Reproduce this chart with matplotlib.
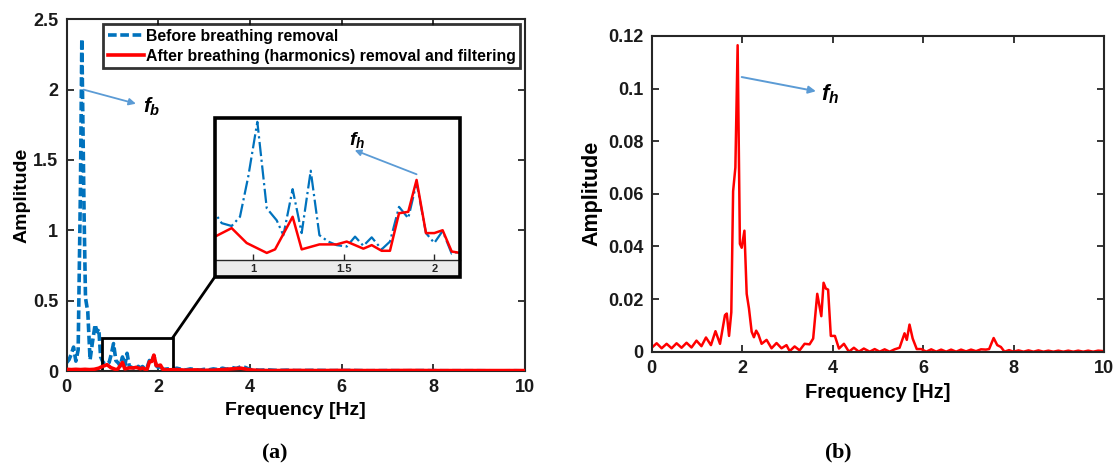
import matplotlib
matplotlib.use("Agg")
import matplotlib.pyplot as plt
from matplotlib.patches import Rectangle, ConnectionPatch
from matplotlib.ticker import FuncFormatter

plt.rcParams['font.family'] = ['Liberation Sans', 'DejaVu Sans']
plt.rcParams['font.weight'] = 'bold'
plt.rcParams['mathtext.fontset'] = 'custom'
plt.rcParams['mathtext.it'] = 'Liberation Sans:italic:bold'
plt.rcParams['mathtext.rm'] = 'Liberation Serif'
plt.rcParams['mathtext.bf'] = 'Liberation Serif:bold'

# ---------------- data ----------------
# (a) spectrum before breathing removal
before_freq = [0.00, 0.05, 0.10, 0.15, 0.20, 0.25, 0.30, 0.33, 0.38, 0.41, 0.46, 0.51,
               0.56, 0.62, 0.66, 0.70, 0.74,
               0.788, 0.825, 0.88, 0.926, 0.972, 1.022, 1.074, 1.129, 1.166, 1.217,
               1.267, 1.317, 1.365, 1.414, 1.46, 1.516, 1.562, 1.608, 1.654, 1.709,
               1.755, 1.805, 1.856, 1.902, 1.954, 2.0, 2.046, 2.096, 2.142,
               2.2, 2.3, 2.4, 2.5, 2.6, 2.7, 2.8, 2.9, 3.0, 3.1, 3.2, 3.3, 3.4, 3.5,
               3.6, 3.7, 3.8, 3.9, 4.0, 4.2, 4.4, 4.6, 4.8, 5.0, 5.4, 5.8, 6.2, 6.6,
               7.0, 7.4, 7.8, 8.2, 8.6, 9.0, 9.4, 9.8, 10.0]
before_amp = [0.06, 0.08, 0.12, 0.17, 0.07, 0.15, 1.30, 2.36, 1.10, 0.52, 0.42, 0.08,
              0.20, 0.33, 0.28, 0.30, 0.10,
              0.066, 0.052, 0.048, 0.061, 0.118, 0.195, 0.073, 0.056, 0.035, 0.100,
              0.038, 0.126, 0.035, 0.026, 0.021, 0.019, 0.033, 0.020, 0.032, 0.015,
              0.026, 0.075, 0.059, 0.109, 0.038, 0.024, 0.041, 0.009, 0.012,
              0.015, 0.010, 0.020, 0.012, 0.008, 0.015, 0.010, 0.006, 0.012, 0.008,
              0.015, 0.010, 0.020, 0.012, 0.025, 0.018, 0.030, 0.025, 0.010, 0.006,
              0.008, 0.004, 0.006, 0.003, 0.005, 0.003, 0.004, 0.002, 0.003, 0.002,
              0.003, 0.002, 0.002, 0.002, 0.001, 0.002, 0.001]

# (a) spectrum after breathing (harmonics) removal and filtering
after_freq = [0.00, 0.10, 0.20, 0.30, 0.40, 0.50, 0.60, 0.70, 0.75,
              0.788, 0.88, 0.963, 1.074, 1.12, 1.217, 1.267, 1.365, 1.46, 1.516,
              1.608, 1.654, 1.709, 1.755, 1.805, 1.856, 1.902, 1.954, 2.0, 2.046,
              2.096, 2.142,
              2.2, 2.4, 2.6, 2.8, 3.0, 3.2, 3.4, 3.6, 3.8, 4.0, 4.2, 4.5, 5.0, 5.5,
              6.0, 6.5, 7.0, 7.5, 8.0, 8.5, 9.0, 9.5, 10.0]
after_amp = [0.012, 0.010, 0.012, 0.010, 0.012, 0.010, 0.012, 0.020, 0.028,
             0.033, 0.045, 0.024, 0.010, 0.015, 0.061, 0.015, 0.022, 0.022, 0.026,
             0.016, 0.021, 0.013, 0.013, 0.066, 0.068, 0.113, 0.038, 0.038, 0.042,
             0.012, 0.010,
             0.008, 0.010, 0.006, 0.008, 0.005, 0.006, 0.010, 0.015, 0.020, 0.008,
             0.004, 0.003, 0.004, 0.003, 0.004, 0.003, 0.003, 0.004, 0.003, 0.003,
             0.003, 0.003, 0.003]

# (b) filtered heartbeat spectrum
hr_freq = [0.00, 0.11, 0.22, 0.33, 0.44, 0.55, 0.66, 0.77, 0.88, 0.99, 1.10, 1.20,
           1.31, 1.41, 1.51, 1.62, 1.66, 1.71, 1.76, 1.80, 1.85, 1.90, 1.95, 1.99,
           2.05, 2.10, 2.15, 2.21, 2.26, 2.31, 2.36, 2.43, 2.54, 2.65, 2.76, 2.87,
           2.98, 3.05, 3.16, 3.27, 3.38, 3.49, 3.57, 3.66, 3.75, 3.80, 3.85, 3.90,
           3.96, 4.05, 4.14, 4.25, 4.36, 4.47, 4.58, 4.69, 4.82, 4.93, 5.04, 5.15,
           5.26, 5.37, 5.48, 5.59, 5.64, 5.70, 5.77, 5.86, 5.96, 6.07, 6.18, 6.29,
           6.40, 6.51, 6.62, 6.73, 6.84, 6.95, 7.06, 7.17, 7.28, 7.39, 7.46, 7.56,
           7.64, 7.72, 7.80, 7.90, 8.00, 8.11, 8.22, 8.33, 8.44, 8.55, 8.66, 8.77,
           8.88, 8.99, 9.10, 9.21, 9.32, 9.43, 9.54, 9.65, 9.76, 9.87, 10.0]
hr_amp = [0.0015, 0.0032, 0.0013, 0.0030, 0.0013, 0.0032, 0.0015, 0.0034, 0.0016,
          0.0042, 0.0021, 0.0054, 0.0025, 0.0078, 0.0030, 0.0139, 0.0145, 0.0060,
          0.0150, 0.0610, 0.0700, 0.1165, 0.0410, 0.0395, 0.0460, 0.0220, 0.0165,
          0.0076, 0.0055, 0.0080, 0.0065, 0.0030, 0.0045, 0.0013, 0.0033, 0.0013,
          0.0025, 0.0002, 0.0020, 0.0005, 0.0030, 0.0028, 0.0050, 0.0220, 0.0135,
          0.0262, 0.0240, 0.0236, 0.0060, 0.0060, 0.0012, 0.0030, 0.0000, 0.0015,
          0.0000, 0.0012, 0.0000, 0.0010, 0.0000, 0.0009, 0.0000, 0.0009, 0.0015,
          0.0070, 0.0045, 0.0103, 0.0050, 0.0010, 0.0010, 0.0000, 0.0009, 0.0000,
          0.0008, 0.0000, 0.0008, 0.0000, 0.0008, 0.0001, 0.0008, 0.0002, 0.0009,
          0.0008, 0.0010, 0.0052, 0.0025, 0.0018, 0.0000, 0.0006, 0.0000, 0.0005,
          0.0000, 0.0005, 0.0000, 0.0005, 0.0000, 0.0004, 0.0000, 0.0004, 0.0000,
          0.0004, 0.0000, 0.0004, 0.0000, 0.0004, 0.0000, 0.0004, 0.0002]

x_ticks = [0, 2, 4, 6, 8, 10]
left_yticks = [0, 0.5, 1, 1.5, 2, 2.5]
right_yticks = [0, 0.02, 0.04, 0.06, 0.08, 0.10, 0.12]
inset_xticks = [1, 1.5, 2]

legend_labels = ['Before breathing removal',
                 'After breathing (harmonics) removal and filtering']

# ---------------- styling ----------------
BLUE = '#0072BD'
RED = '#FF0000'
ARROW = '#5B9BD5'
SPINE = '#262626'

W, H = 1118, 468
fig = plt.figure(figsize=(W / 100, H / 100), dpi=100)
fmt = FuncFormatter(lambda v, p: '%g' % v)


def px_box(x0, y0, x1, y1):
    """Axes rectangle from pixel corners (top-left origin)."""
    return [x0 / W, (H - y1) / H, (x1 - x0) / W, (y1 - y0) / H]


def style_axes(ax):
    for s in ax.spines.values():
        s.set_linewidth(1.5)
        s.set_color(SPINE)
    ax.tick_params(direction='in', length=5, width=1.3, top=True, right=True,
                   labelsize=13, colors=SPINE, labelcolor='#1a1a1a', pad=6)
    for lab in ax.get_xticklabels() + ax.get_yticklabels():
        lab.set_fontweight('bold')
    ax.xaxis.set_major_formatter(fmt)
    ax.yaxis.set_major_formatter(fmt)


# ---------------- panel (a) ----------------
ax1 = fig.add_axes(px_box(66.7, 19.3, 525, 371))
l1, = ax1.plot(before_freq, before_amp, color=BLUE, lw=2.6,
               linestyle=(0, (2.4, 1.0)), zorder=2)
l2, = ax1.plot(after_freq, after_amp, color=RED, lw=2.6, zorder=3)
ax1.set_xlim(0, 10)
ax1.set_ylim(0, 2.5)
ax1.set_xticks(x_ticks)
ax1.set_yticks(left_yticks)
style_axes(ax1)
ax1.set_xlabel('Frequency [Hz]', fontsize=14, fontweight='bold', labelpad=4)
ax1.set_ylabel('Amplitude', fontsize=14, fontweight='bold', labelpad=2)

leg = ax1.legend([l1, l2], legend_labels, loc='upper right',
                 frameon=True, fancybox=False, borderaxespad=0.3,
                 handlelength=2.3, handletextpad=0.1, labelspacing=0.3,
                 borderpad=0.3, prop={'weight': 'bold', 'size': 11.4})
leg.get_frame().set_edgecolor('black')
leg.get_frame().set_linewidth(2)

ax1.annotate('', xy=(1.51, 1.90), xytext=(0.37, 2.0),
             arrowprops=dict(arrowstyle='-|>', color=ARROW, lw=1.3,
                             mutation_scale=10, shrinkA=0, shrinkB=0))
ax1.text(1.66, 1.88, r'$f_b$', fontsize=15, va='center', ha='left')

# zoom window on the main axes
zoom_box = Rectangle((0.78, 0.0), 1.53, 0.235, fill=False, edgecolor='black',
                     lw=2, zorder=2.5)
ax1.add_patch(zoom_box)

# inset: data area plus grey tick strip inside a thick frame
ix0, iy0, ix1, iy1, istrip = 215, 118.3, 460, 260, 276.7
fig.patches.append(Rectangle((ix0 / W, (H - istrip) / H), (ix1 - ix0) / W,
                             (istrip - iy1) / H, transform=fig.transFigure,
                             facecolor='#EBEBEB', edgecolor='none', zorder=4))
axin = fig.add_axes(px_box(ix0, iy0, ix1, iy1), zorder=5)
axin.plot(before_freq, before_amp, color=BLUE, lw=1.6, linestyle='-.')
axin.plot(after_freq, after_amp, color=RED, lw=1.8)
axin.set_xlim(0.788, 2.142)
axin.set_ylim(0, 0.2)
axin.set_xticks(inset_xticks)
axin.set_yticks([])
axin.xaxis.set_major_formatter(fmt)
for side in ('top', 'left', 'right'):
    axin.spines[side].set_visible(False)
axin.spines['bottom'].set_linewidth(1.0)
axin.spines['bottom'].set_color(SPINE)
axin.tick_params(axis='x', direction='in', length=4, width=1, labelsize=8,
                 pad=3, colors=SPINE)
for lab in axin.get_xticklabels():
    lab.set_fontweight('bold')
axin.annotate('', xy=(1.56, 0.155), xytext=(1.902, 0.121),
              arrowprops=dict(arrowstyle='-|>', color=ARROW, lw=1.3,
                              mutation_scale=9, shrinkA=0, shrinkB=0))
axin.text(1.575, 0.169, r'$f_h$', fontsize=14, va='center', ha='center')

fig.patches.append(Rectangle((ix0 / W, (H - istrip) / H), (ix1 - ix0) / W,
                             (istrip - iy0) / H, transform=fig.transFigure,
                             fill=False, edgecolor='black', lw=2.6, zorder=6))
link = ConnectionPatch(xyA=(2.31, 0.235), coordsA=ax1.transData,
                       xyB=(ix0 / W, (H - istrip) / H), coordsB=fig.transFigure,
                       color='black', lw=2)
fig.add_artist(link)

# ---------------- panel (b) ----------------
ax2 = fig.add_axes(px_box(651.7, 36, 1104, 351.7))
ax2.plot(hr_freq, hr_amp, color=RED, lw=1.8)
ax2.set_xlim(0, 10)
ax2.set_ylim(0, 0.12)
ax2.set_xticks(x_ticks)
ax2.set_yticks(right_yticks)
style_axes(ax2)
ax2.set_xlabel('Frequency [Hz]', fontsize=14.5, fontweight='bold', labelpad=4)
ax2.set_ylabel('Amplitude', fontsize=15.5, fontweight='bold', labelpad=4)
ax2.annotate('', xy=(3.63, 0.099), xytext=(1.99, 0.1044),
             arrowprops=dict(arrowstyle='-|>', color=ARROW, lw=1.4,
                             mutation_scale=11, shrinkA=0, shrinkB=0))
ax2.text(3.75, 0.098, r'$f_h$', fontsize=16, va='center', ha='left')

# sub-figure captions
fig.text(275 / W, (H - 453) / H, r'$\mathrm{(}\mathbf{a}\mathrm{)}$', fontsize=16,
         ha='center', va='center')
fig.text(838 / W, (H - 453) / H, r'$\mathrm{(}\mathbf{b}\mathrm{)}$', fontsize=16,
         ha='center', va='center')

fig.savefig('out.png', dpi=100)
